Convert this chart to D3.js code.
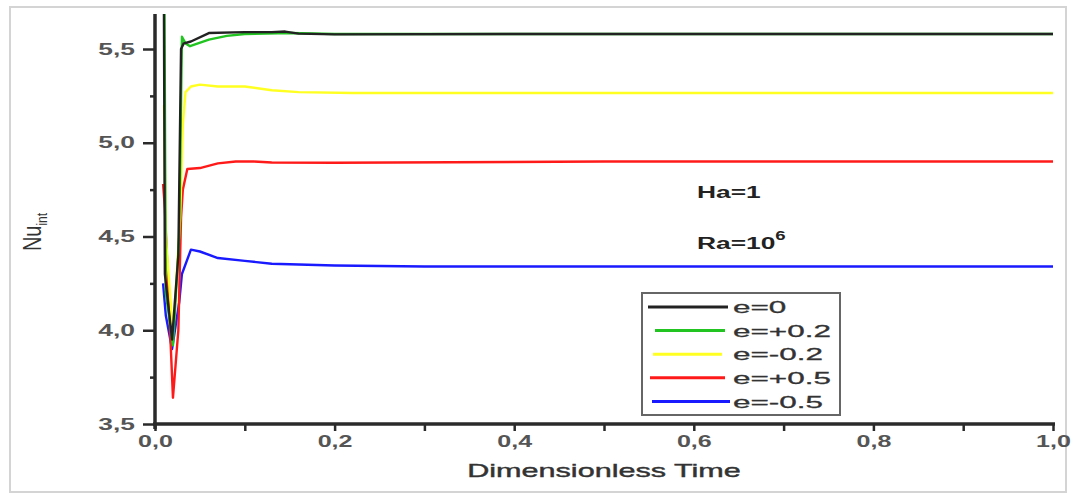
<!DOCTYPE html>
<html>
<head>
<meta charset="utf-8">
<script src="https://cdn.jsdelivr.net/npm/d3@7"></script>
<style>
  html, body { margin: 0; padding: 0; background: #fff; }
  svg { display: block; }
  text { font-family: "Liberation Sans", Arial, sans-serif; }
</style>
</head>
<body>
<svg id="chart" width="1072" height="497"></svg>
<script>
// Transient average Nusselt number for several eccentricities e (Ha = 1, Ra = 10^6)
const seriesNames = ["e=0", "e=+0.2", "e=-0.2", "e=+0.5", "e=-0.5"];
const seriesColors = ["#222222", "#22c422", "#ffff22", "#ff1a1a", "#1a1aff"];

const timeE0   = [0.0095, 0.011, 0.019, 0.026, 0.029, 0.032, 0.040, 0.060, 0.100, 0.130, 0.145, 0.160, 0.200, 0.400, 1.000];
const nuE0     = [6.300, 4.300, 3.950, 4.400, 5.500, 5.530, 5.540, 5.585, 5.590, 5.590, 5.593, 5.582, 5.578, 5.580, 5.580];

const timeEp02 = [0.0100, 0.012, 0.020, 0.027, 0.030, 0.034, 0.039, 0.060, 0.080, 0.100, 0.150, 0.200, 1.000];
const nuEp02   = [6.300, 4.200, 3.920, 4.500, 5.565, 5.530, 5.515, 5.550, 5.570, 5.580, 5.585, 5.580, 5.580];

const timeEm02 = [0.0100, 0.012, 0.020, 0.028, 0.031, 0.034, 0.040, 0.050, 0.070, 0.100, 0.130, 0.160, 0.220, 1.000];
const nuEm02   = [5.200, 4.500, 3.980, 4.600, 5.100, 5.270, 5.300, 5.310, 5.300, 5.300, 5.280, 5.270, 5.265, 5.265];

const timeEp05 = [0.0090, 0.011, 0.020, 0.026, 0.029, 0.031, 0.036, 0.050, 0.070, 0.090, 0.110, 0.130, 0.200, 0.500, 1.000];
const nuEp05   = [4.780, 4.650, 3.640, 4.000, 4.600, 4.750, 4.860, 4.865, 4.890, 4.900, 4.900, 4.895, 4.893, 4.900, 4.900];

const timeEm05 = [0.0090, 0.012, 0.019, 0.027, 0.030, 0.040, 0.050, 0.070, 0.100, 0.130, 0.200, 0.300, 1.000];
const nuEm05   = [4.250, 4.080, 3.900, 4.150, 4.300, 4.430, 4.420, 4.385, 4.370, 4.355, 4.345, 4.340, 4.340];

const xTickValues = [0, 0.2, 0.4, 0.6, 0.8, 1.0];
const yTickValues = [3.5, 4.0, 4.5, 5.0, 5.5];

const seriesTimes = [timeE0, timeEp02, timeEm02, timeEp05, timeEm05];
const seriesValues = [nuE0, nuEp02, nuEm02, nuEp05, nuEm05];

// horizontal stretch of the lettering (wide typeface look)
const STRETCH = 1.65;

const svg = d3.select("#chart");

// outer frame
svg.append("rect")
  .attr("x", 10).attr("y", 7).attr("width", 1056).attr("height", 485)
  .attr("fill", "none").attr("stroke", "#d4d4d4").attr("stroke-width", 2);

const plotLeft = 155, plotRight = 1053, plotTop = 14, plotBottom = 424;
const x = d3.scaleLinear().domain([0, 1]).range([plotLeft, plotRight]);
const y = d3.scaleLinear().domain([3.5, 5.5]).range([plotBottom, 49]);

const fmt = d => d3.format(".1f")(d).replace(".", ",");

// helper: place a stretched text item
function stretchedText(parent, px, py, sx) {
  return parent.append("text")
    .attr("transform", `translate(${px},${py}) scale(${sx},1)`);
}

// clip for curves
svg.append("defs").append("clipPath").attr("id", "plotClip")
  .append("rect").attr("x", plotLeft).attr("y", plotTop)
  .attr("width", plotRight - plotLeft + 2).attr("height", plotBottom - plotTop);

const line = d3.line().x(d => x(d[0])).y(d => y(d[1]));
const plot = svg.append("g").attr("clip-path", "url(#plotClip)");
// draw back-to-front so that black and green end up on top
[4, 3, 2, 1, 0].forEach(i => {
  const pts = seriesTimes[i].map((t, k) => [t, seriesValues[i][k]]);
  plot.append("path")
    .datum(pts)
    .attr("d", line)
    .attr("fill", "none")
    .attr("stroke", seriesColors[i])
    .attr("stroke-width", 2.4)
    .attr("stroke-linejoin", "round");
});

// x axis
const xAxis = svg.append("g").attr("transform", `translate(0,${plotBottom})`);
xAxis.append("g").call(d3.axisBottom(x).tickValues(d3.range(0.1, 1.0, 0.2)).tickSize(7).tickFormat(""));
xAxis.append("g").call(d3.axisBottom(x).tickValues(xTickValues).tickSize(7).tickFormat(fmt));
xAxis.selectAll(".domain").remove();
xAxis.append("line").attr("x1", plotLeft - 2).attr("x2", plotRight + 2)
  .attr("stroke", "#2a2a2a").attr("stroke-width", 3.5);
xAxis.selectAll(".tick line").attr("stroke", "#2a2a2a").attr("stroke-width", 2.5);
xAxis.selectAll(".tick text")
  .attr("y", 0).attr("dy", 0)
  .attr("transform", `translate(0,23) scale(${STRETCH * 0.95},1)`)
  .attr("font-size", 16).attr("fill", "#555").attr("font-weight", "bold");

// y axis
const yAxis = svg.append("g").attr("transform", `translate(${plotLeft},0)`);
yAxis.append("g").call(d3.axisLeft(y).tickValues(d3.range(3.75, 5.6, 0.5)).tickSize(5).tickFormat(""));
yAxis.append("g").call(d3.axisLeft(y).tickValues(yTickValues).tickSize(12).tickFormat(fmt));
yAxis.selectAll(".domain").remove();
yAxis.append("line").attr("y1", plotTop).attr("y2", plotBottom + 5)
  .attr("stroke", "#2a2a2a").attr("stroke-width", 3.5);
yAxis.selectAll(".tick line").attr("stroke", "#2a2a2a").attr("stroke-width", 2.5);
yAxis.selectAll(".tick text")
  .attr("x", 0)
  .attr("transform", `translate(-20,0) scale(${STRETCH},1)`)
  .attr("font-size", 16).attr("fill", "#555").attr("font-weight", "bold");

// axis titles
stretchedText(svg, 604, 477, STRETCH * 1.03)
  .attr("text-anchor", "middle")
  .attr("font-size", 18).attr("fill", "#333").attr("stroke", "#333").attr("stroke-width", 0.4)
  .text("Dimensionless Time");

const yl = svg.append("text")
  .attr("transform", "translate(41,232) rotate(-90) scale(1,1.25)")
  .attr("text-anchor", "middle")
  .attr("font-size", 20).attr("fill", "#333");
yl.append("tspan").text("Nu");
yl.append("tspan").attr("font-size", 12).attr("dy", 5).text("int");

// annotations
stretchedText(svg, 697, 198, 1.55)
  .attr("font-size", 17).attr("font-weight", "bold").attr("fill", "#222")
  .text("Ha=1");
const ra = stretchedText(svg, 697, 249, 1.55)
  .attr("font-size", 17).attr("font-weight", "bold").attr("fill", "#222");
ra.append("tspan").text("Ra=10");
ra.append("tspan").attr("font-size", 12).attr("dy", -9).text("6");

// legend
const lg = svg.append("g");
lg.append("rect")
  .attr("x", 642).attr("y", 293).attr("width", 198).attr("height", 122)
  .attr("fill", "#fff").attr("stroke", "#666").attr("stroke-width", 2);
const legendLines = [[648, 728], [655, 725], [653, 722], [650, 725], [652, 730]];
seriesNames.forEach((name, i) => {
  const ry = 307 + i * 23.6;
  lg.append("line")
    .attr("x1", legendLines[i][0]).attr("x2", legendLines[i][1])
    .attr("y1", ry).attr("y2", ry)
    .attr("stroke", seriesColors[i]).attr("stroke-width", 3);
  stretchedText(lg, 733, ry, 1.85)
    .attr("dy", "0.36em")
    .attr("font-size", 17).attr("fill", "#333").attr("stroke", "#333").attr("stroke-width", 0.3)
    .text(name);
});
</script>
</body>
</html>
